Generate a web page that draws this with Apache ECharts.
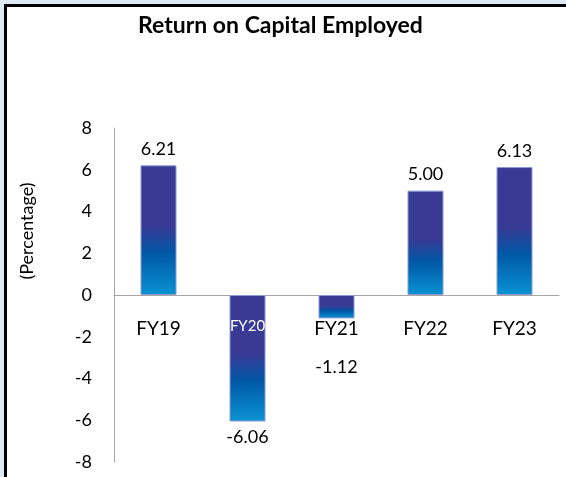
<!DOCTYPE html>
<html>
<head>
<meta charset="utf-8">
<script src="https://cdn.jsdelivr.net/npm/echarts@6/dist/echarts.min.js"></script>
<style>
  html, body { margin: 0; padding: 0; }
  #wrap { position: absolute; left: 0; top: 0; width: 566px; height: 477px; background: #dce9f6; }
  #frame { position: absolute; left: 4px; top: 4px; width: 562px; height: 473px; box-sizing: border-box;
           border-left: 3px solid #000; border-top: 3px solid #000; background: #fff; }
  #main { position: absolute; left: 0; top: 0; width: 566px; height: 477px; }
</style>
</head>
<body>
<div id="wrap"><div id="frame"></div></div>
<div id="main"></div>
<script>
// data
const categories = ['FY19', 'FY20', 'FY21', 'FY22', 'FY23'];
const roce = [6.21, -6.06, -1.12, 5.00, 6.13];
const yMin = -8, yMax = 8, yStep = 2;

const font = 'Lato, "Open Sans", sans-serif';

// FY21 value sits below its category label, FY20 category label is white inside the bar
const labelDistance = { FY21: 40 };
const whiteLabels = ['FY20'];

const barColor = new echarts.graphic.LinearGradient(0, 0, 0, 1, [
  { offset: 0, color: '#383a94' },
  { offset: 0.47, color: '#383a94' },
  { offset: 0.68, color: '#0058a6' },
  { offset: 1, color: '#0a93d3' }
]);

const chart = echarts.init(document.getElementById('main'));
chart.setOption({
  backgroundColor: 'transparent',
  animation: false,
  title: {
    text: 'Return on Capital Employed',
    left: 133,
    top: 9,
    textStyle: { fontFamily: font, fontSize: 23, fontWeight: 'bold', color: '#000' }
  },
  grid: { left: 114, right: 7, top: 128, bottom: 15, containLabel: false, outerBoundsMode: 'none' },
  xAxis: {
    type: 'category',
    data: categories,
    axisLine: { onZero: true, lineStyle: { color: '#a6a6a6', width: 1 } },
    axisTick: { show: false },
    axisLabel: { show: false }
  },
  yAxis: {
    type: 'value',
    min: yMin,
    max: yMax,
    interval: yStep,
    axisLine: { show: true, lineStyle: { color: '#a6a6a6', width: 1 } },
    axisTick: { show: false },
    splitLine: { show: false },
    axisLabel: { margin: 22, fontFamily: font, fontSize: 18, color: '#000' }
  },
  graphic: [
    {
      type: 'text',
      x: 27,
      y: 231,
      rotation: Math.PI / 2,
      style: {
        text: '(Percentage)',
        fontFamily: font,
        fontSize: 18,
        fill: '#000',
        textAlign: 'center',
        textVerticalAlign: 'middle'
      }
    }
  ],
  series: [
    {
      type: 'bar',
      barWidth: 36,
      data: roce.map(function (v, i) {
        return {
          value: v,
          label: {
            position: v >= 0 ? 'top' : 'bottom',
            distance: labelDistance[categories[i]] || 7
          }
        };
      }),
      itemStyle: { color: barColor, borderColor: '#8c9ad4', borderWidth: 1 },
      label: {
        show: true,
        fontFamily: font,
        fontSize: 18,
        color: '#000',
        formatter: function (p) { return p.value.toFixed(2); }
      }
    },
    {
      // category names hung under the zero line
      type: 'bar',
      barWidth: 36,
      barGap: '-100%',
      z: 5,
      silent: true,
      data: categories.map(function () { return 0; }),
      itemStyle: { color: 'transparent' },
      label: {
        show: true,
        position: 'bottom',
        distance: 24,
        formatter: function (p) {
          return whiteLabels.indexOf(p.name) >= 0 ? '{w|' + p.name + '}' : '{n|' + p.name + '}';
        },
        rich: {
          n: { fontFamily: font, fontSize: 19, color: '#000' },
          w: { fontFamily: font, fontSize: 15, color: '#fff' }
        }
      }
    }
  ]
});
</script>
</body>
</html>
